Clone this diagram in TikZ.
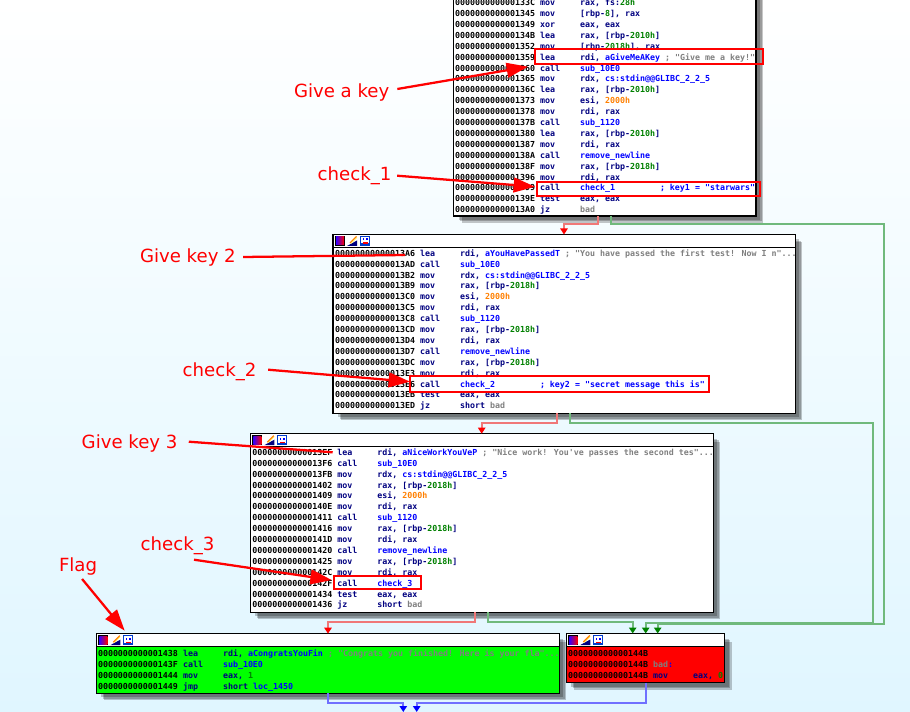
\documentclass[tikz,border=0pt]{standalone}
\usepackage{fontspec}
\usetikzlibrary{arrows.meta}
\setmainfont{DejaVu Sans}
\newfontfamily\codefont{DejaVu Sans Mono}
\definecolor{idanavy}{RGB}{0,0,128}
\definecolor{idablue}{RGB}{0,0,255}
\definecolor{idagreen}{RGB}{0,128,0}
\definecolor{idaorange}{RGB}{255,128,0}
\definecolor{idagray}{RGB}{128,128,128}
\definecolor{edgered}{RGB}{240,120,120}
\definecolor{edgegreen}{RGB}{112,185,124}
\definecolor{edgeblue}{RGB}{112,112,255}
\definecolor{bgbottom}{RGB}{224,246,255}
\newcommand\cM[1]{\textcolor{idanavy}{#1}}
\newcommand\cB[1]{\textcolor{idablue}{#1}}
\newcommand\cG[1]{\textcolor{idagreen}{#1}}
\newcommand\cO[1]{\textcolor{idaorange}{#1}}
\newcommand\cC[1]{\textcolor{idagray}{#1}}
\newcommand\codeRow[3]{\vrule width 0pt height 6pt depth 2.175pt\hbox to 63.75pt{000000000000#1\hss}\hbox to 30pt{\cM{#2}\hss}#3}
\tikzset{
  x=0.75pt,y=-0.75pt,
  blockbox/.style={draw=black,line width=0.9pt,inner sep=0pt,outer sep=0pt},
  codetext/.style={anchor=north west,inner sep=0pt,outer sep=0pt,align=left,text=black,font=\codefont\bfseries\fontsize{6.229pt}{8.175pt}\selectfont},
  marker/.style={draw=red,line width=1.6pt,inner sep=0pt,outer sep=0pt},
  remark/.style={anchor=base west,inner sep=0pt,outer sep=0pt,text=red,font=\fontsize{13.6pt}{15pt}\selectfont},
  callout/.style={draw=red,line width=1.7pt,-{Triangle[length=16pt,width=11pt,fill=red]}},
  redflow/.style={draw=edgered,line width=1.5pt,-{Triangle[length=4.5pt,width=5.5pt,color=red]}},
  greenflow/.style={draw=edgegreen,line width=1.5pt,-{Triangle[length=4.5pt,width=5.5pt,color=idagreen]}},
  blueflow/.style={draw=edgeblue,line width=1.5pt,-{Triangle[length=4.5pt,width=5.5pt,color=idablue]}},
}
\newcommand\idaIcons[2]{%
  \fill[black] ({#1+2},{#2+1.5}) rectangle ({#1+12},{#2+11.5});
  \shade[left color=blue!80!magenta,middle color=green!80!yellow,right color=red] ({#1+3},{#2+2.5}) rectangle ({#1+11},{#2+10.5});
  \fill[idanavy] ({#1+14},{#2+11.5}) -- ({#1+24},{#2+6}) -- ({#1+24},{#2+11.5}) -- cycle;
  \fill[white] ({#1+15},{#2+7.5}) rectangle ({#1+20},{#2+8.5});
  \draw[orange,line width=1pt] ({#1+17},{#2+8.5}) -- ({#1+23.5},{#2+2});
  \draw[yellow!70!white,line width=.4pt] ({#1+18},{#2+9}) -- ({#1+24},{#2+3});
  \fill[blue!70!cyan!80!black] ({#1+27},{#2+1.5}) rectangle ({#1+37},{#2+11.5});
  \fill[white] ({#1+28},{#2+2.5}) rectangle ({#1+36},{#2+9});
  \fill[idablue] ({#1+29.5},{#2+4}) rectangle ({#1+31},{#2+6});
  \fill[idablue] ({#1+33},{#2+4}) rectangle ({#1+34.5},{#2+6});
  \fill[red] ({#1+30},{#2+8}) rectangle ({#1+35},{#2+9.5});
}
% name, x0, y0, x1, y1, header bottom, body colour
\newcommand\idaBlock[7]{%
  \foreach \off in {7,5.5,4}{\fill[black,opacity=.22] ({#2+\off+1},{#3+\off+1}) rectangle ({#4+\off},{#5+\off});}
  \node[blockbox,fill=#7,minimum width={(#4-#2)*0.75pt},minimum height={(#5-#3)*0.75pt}] (#1) at ({(#2+#4)/2},{(#3+#5)/2}) {};
  \draw[black,line width=0.9pt,fill=white] (#2,#3) rectangle (#4,#6);
  \idaIcons{#2}{#3}
}
\newcommand\redMark[5]{\node[marker,minimum width={(#4-#2)*0.75pt},minimum height={(#5-#3)*0.75pt}] (#1) at ({(#2+#4)/2},{(#3+#5)/2}) {};}
\begin{document}
\begin{tikzpicture}
\useasboundingbox (0,0) rectangle (910,712);
\clip (0,0) rectangle (910,712);
\shade[top color=white,bottom color=bgbottom] (0,0) rectangle (910,712);

\idaBlock{b1}{453.5}{-30}{756}{216}{-20}{white}
\idaBlock{b2}{333}{234.5}{795.3}{413.3}{247.7}{white}
\idaBlock{b3}{250.3}{433.7}{713.3}{612.3}{446.7}{white}
\idaBlock{b4}{96.3}{633.7}{559.3}{693.3}{646.7}{green}
\idaBlock{b5}{566.3}{633.5}{724.7}{682.7}{646.7}{red}

% flow edges
\draw[redflow] (598.3,0 |- b1.south) -- (598.3,224) -- (564,224) -- (564,0 |- b2.north);
\draw[greenflow] (611,0 |- b1.south) -- (611,224) -- (884,224) -- (884,624) -- (657.7,624) -- (657.7,0 |- b5.north);
\draw[redflow] (557.3,0 |- b2.south) -- (557.3,422.7) -- (481.7,422.7) -- (481.7,0 |- b3.north);
\draw[greenflow] (570,0 |- b2.south) -- (570,422.7) -- (873.3,422.7) -- (873.3,622.5) -- (645.7,622.5) -- (645.7,0 |- b5.north);
\draw[redflow] (475.3,0 |- b3.south) -- (475.3,622.3) -- (328,622.3) -- (328,0 |- b4.north);
\draw[greenflow] (488,0 |- b3.south) -- (488,622.3) -- (632.7,622.3) -- (632.7,0 |- b5.north);
\draw[blueflow] (327.7,0 |- b4.south) -- (327.7,703) -- (403.3,703) -- (403.3,712);
\draw[blueflow] (646,0 |- b5.south) -- (646,702.7) -- (416.7,702.7) -- (416.7,712);

% code
\node[codetext] (c1) at (455,-2.3) {%
\codeRow{133C}{mov}{\cM{rax, fs:}\cG{28h}}\\
\codeRow{1345}{mov}{\cM{[rbp-}\cG{8}\cM{], rax}}\\
\codeRow{1349}{xor}{\cM{eax, eax}}\\
\codeRow{134B}{lea}{\cM{rax, [rbp-}\cG{2010h}\cM{]}}\\
\codeRow{1352}{mov}{\cM{[rbp-}\cG{2018h}\cM{], rax}}\\
\codeRow{1359}{lea}{\cM{rdi, }\cB{aGiveMeAKey}\ \cC{; "Give me a key!"}}\\
\codeRow{1360}{call}{\cB{sub\_10E0}}\\
\codeRow{1365}{mov}{\cM{rdx, }\cB{cs:stdin@@GLIBC\_2\_2\_5}}\\
\codeRow{136C}{lea}{\cM{rax, [rbp-}\cG{2010h}\cM{]}}\\
\codeRow{1373}{mov}{\cM{esi, }\cO{2000h}}\\
\codeRow{1378}{mov}{\cM{rdi, rax}}\\
\codeRow{137B}{call}{\cB{sub\_1120}}\\
\codeRow{1380}{lea}{\cM{rax, [rbp-}\cG{2010h}\cM{]}}\\
\codeRow{1387}{mov}{\cM{rdi, rax}}\\
\codeRow{138A}{call}{\cB{remove\_newline}}\\
\codeRow{138F}{mov}{\cM{rax, [rbp-}\cG{2018h}\cM{]}}\\
\codeRow{1396}{mov}{\cM{rdi, rax}}\\
\codeRow{1399}{call}{\hbox to 60pt{\cB{check\_1}\hss}\cB{; key1 = "starwars"}}\\
\codeRow{139E}{test}{\cM{eax, eax}}\\
\codeRow{13A0}{jz}{\cC{bad}}};

\node[codetext] (c2) at (335,248.3) {%
\codeRow{13A6}{lea}{\cM{rdi, }\cB{aYouHavePassedT}\ \cC{; "You have passed the first test! Now I n"...}}\\
\codeRow{13AD}{call}{\cB{sub\_10E0}}\\
\codeRow{13B2}{mov}{\cM{rdx, }\cB{cs:stdin@@GLIBC\_2\_2\_5}}\\
\codeRow{13B9}{mov}{\cM{rax, [rbp-}\cG{2018h}\cM{]}}\\
\codeRow{13C0}{mov}{\cM{esi, }\cO{2000h}}\\
\codeRow{13C5}{mov}{\cM{rdi, rax}}\\
\codeRow{13C8}{call}{\cB{sub\_1120}}\\
\codeRow{13CD}{mov}{\cM{rax, [rbp-}\cG{2018h}\cM{]}}\\
\codeRow{13D4}{mov}{\cM{rdi, rax}}\\
\codeRow{13D7}{call}{\cB{remove\_newline}}\\
\codeRow{13DC}{mov}{\cM{rax, [rbp-}\cG{2018h}\cM{]}}\\
\codeRow{13E3}{mov}{\cM{rdi, rax}}\\
\codeRow{13E6}{call}{\hbox to 60pt{\cB{check\_2}\hss}\cB{; key2 = "secret message this is"}}\\
\codeRow{13EB}{test}{\cM{eax, eax}}\\
\codeRow{13ED}{jz}{\cM{short }\cC{bad}}};

\node[codetext] (c3) at (252.3,447.3) {%
\codeRow{13EF}{lea}{\cM{rdi, }\cB{aNiceWorkYouVeP}\ \cC{; "Nice work! You've passes the second tes"...}}\\
\codeRow{13F6}{call}{\cB{sub\_10E0}}\\
\codeRow{13FB}{mov}{\cM{rdx, }\cB{cs:stdin@@GLIBC\_2\_2\_5}}\\
\codeRow{1402}{mov}{\cM{rax, [rbp-}\cG{2018h}\cM{]}}\\
\codeRow{1409}{mov}{\cM{esi, }\cO{2000h}}\\
\codeRow{140E}{mov}{\cM{rdi, rax}}\\
\codeRow{1411}{call}{\cB{sub\_1120}}\\
\codeRow{1416}{mov}{\cM{rax, [rbp-}\cG{2018h}\cM{]}}\\
\codeRow{141D}{mov}{\cM{rdi, rax}}\\
\codeRow{1420}{call}{\cB{remove\_newline}}\\
\codeRow{1425}{mov}{\cM{rax, [rbp-}\cG{2018h}\cM{]}}\\
\codeRow{142C}{mov}{\cM{rdi, rax}}\\
\codeRow{142F}{call}{\cB{check\_3}}\\
\codeRow{1434}{test}{\cM{eax, eax}}\\
\codeRow{1436}{jz}{\cM{short }\cC{bad}}};

\node[codetext] (c4) at (98,648.7) {%
\codeRow{1438}{lea}{\cM{rdi, }\cB{aCongratsYouFin}\ \cC{; "Congrats you finished! Here is your fla"...}}\\
\codeRow{143F}{call}{\cB{sub\_10E0}}\\
\codeRow{1444}{mov}{\cM{eax, }\cG{1}}\\
\codeRow{1449}{jmp}{\cM{short }\cB{loc\_1450}}};

\node[codetext] (c5) at (568,648.5) {%
\codeRow{144B}{}{}\\
\codeRow{144B}{\cC{bad}\cB{:}}{}\\
\codeRow{144B}{mov}{\cM{eax, }\cG{0}}};

% annotations
\redMark{m1}{535}{49.3}{762.7}{64}
\redMark{m2}{537}{182}{760}{196}
\redMark{m3}{410}{375.7}{709.3}{391.7}
\redMark{m4}{334.3}{575.7}{421.3}{589}

\node[remark] (l1) at (294,98) {Give a key};
\node[remark] (l2) at (317.7,181) {check\_1};
\node[remark] (l3) at (140,263) {Give key 2};
\node[remark] (l4) at (182.7,376.5) {check\_2};
\node[remark] (l5) at (81.7,449) {Give key 3};
\node[remark] (l6) at (140.7,550) {check\_3};
\node[remark] (l7) at (59,571) {Flag};

\draw[callout] ([shift={(8,-9)}]l1.base east) -- ([shift={(-7,2.7)}]m1.south west);
\draw[callout] ([shift={(5.7,-5.3)}]l2.base east) -- ([shift={(-2,-2.3)}]m2.west);
\draw[callout,-] ([shift={(7.3,-6)}]l3.base east) -- ([shift={(72,20.5)}]b2.north west);
\draw[callout] ([shift={(11.7,-6.8)}]l4.base east) -- ([shift={(0,-2)}]m3.west);
\draw[callout,-] ([shift={(11.3,-7.3)}]l5.base east) -- ([shift={(82.4,18.6)}]b3.north west);
\draw[callout] ([shift={(-20.4,9.7)}]l6.base east) -- ([shift={(-2.6,-2.3)}]m4.west);
\draw[callout] ([shift={(-15,8)}]l7.base east) -- ([shift={(28.4,-3)}]b4.north west);
\end{tikzpicture}
\end{document}
